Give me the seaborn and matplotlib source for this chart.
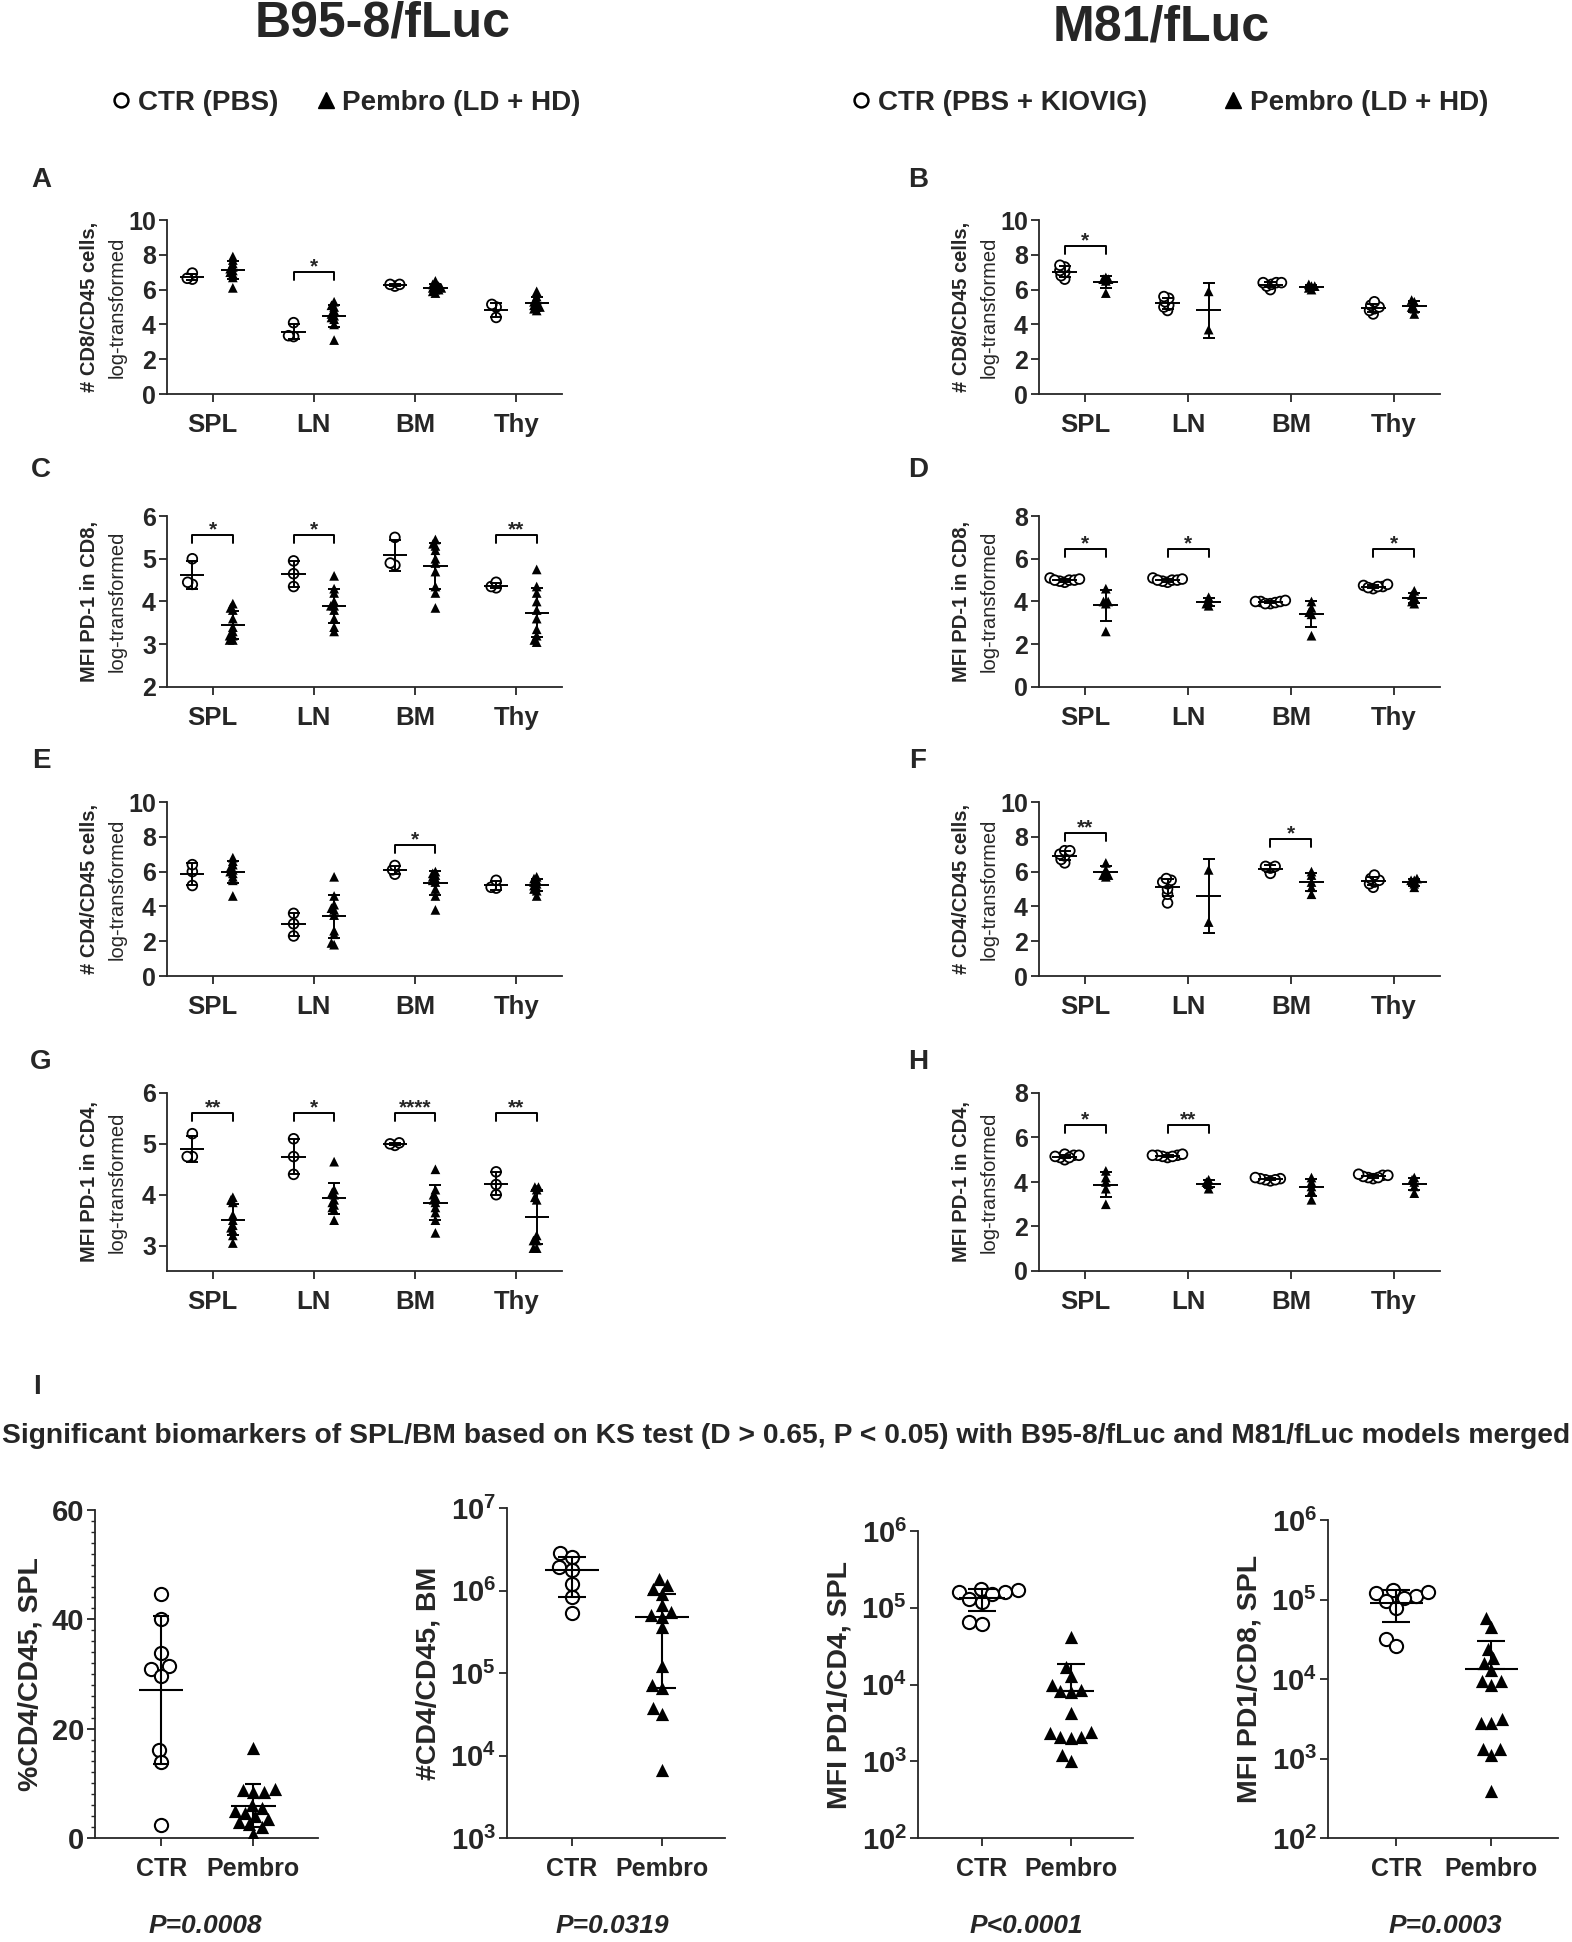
import warnings
import numpy as np
import pandas as pd
import matplotlib
matplotlib.use('Agg')
import matplotlib.pyplot as plt
import seaborn as sns
from matplotlib.lines import Line2D
from matplotlib.ticker import FixedLocator, MultipleLocator, NullLocator, FuncFormatter

warnings.filterwarnings('ignore')

organs = ['SPL', 'LN', 'BM', 'Thy']
groups = ['CTR', 'Pembro']

# ---- B95-8/fLuc panels (values per organ: SPL, LN, BM, Thy) ----
A_CTR = [[6.6, 6.95, 6.65], [3.3, 3.35, 4.1], [6.2, 6.3, 6.3], [4.4, 5.0, 5.15]]
A_PEM = [[6.1, 6.7, 6.9, 7.0, 7.1, 7.2, 7.3, 7.5, 7.7, 7.9],
         [3.1, 4.0, 4.3, 4.4, 4.5, 4.6, 4.8, 5.0, 5.1, 5.3],
         [5.8, 5.9, 6.0, 6.0, 6.1, 6.1, 6.2, 6.2, 6.3, 6.5],
         [4.8, 4.9, 5.0, 5.0, 5.1, 5.2, 5.3, 5.4, 5.6, 5.9]]
A_SIG = {'LN': '*'}

C_CTR = [[4.4, 4.45, 5.0], [4.35, 4.65, 4.95], [4.85, 4.9, 5.5], [4.32, 4.35, 4.45]]
C_PEM = [[3.1, 3.1, 3.2, 3.2, 3.3, 3.4, 3.6, 3.8, 3.85, 3.95],
         [3.3, 3.4, 3.6, 3.8, 3.9, 3.9, 4.0, 4.2, 4.3, 4.6],
         [3.85, 4.2, 4.35, 4.7, 4.9, 5.0, 5.2, 5.3, 5.35, 5.45],
         [3.05, 3.1, 3.2, 3.35, 3.6, 3.8, 4.0, 4.2, 4.35, 4.75]]
C_SIG = {'SPL': '*', 'LN': '*', 'Thy': '**'}

E_CTR = [[5.2, 6.0, 6.4], [2.3, 3.0, 3.6], [5.85, 6.1, 6.35], [5.05, 5.1, 5.5]]
E_PEM = [[4.6, 5.5, 5.7, 5.9, 6.0, 6.1, 6.2, 6.4, 6.6, 6.8],
         [1.8, 1.9, 2.4, 2.6, 3.5, 3.8, 3.9, 4.1, 4.6, 5.7],
         [3.8, 4.6, 5.0, 5.4, 5.5, 5.6, 5.7, 5.8, 5.9, 6.0],
         [4.6, 4.9, 5.0, 5.1, 5.2, 5.3, 5.4, 5.5, 5.6, 5.7]]
E_SIG = {'BM': '*'}

G_CTR = [[4.75, 4.75, 5.2], [4.4, 4.75, 5.1], [4.97, 5.0, 5.02], [4.0, 4.2, 4.45]]
G_PEM = [[3.05, 3.2, 3.3, 3.35, 3.4, 3.5, 3.6, 3.85, 3.9, 3.95],
         [3.5, 3.7, 3.75, 3.8, 3.85, 3.9, 4.0, 4.05, 4.1, 4.65],
         [3.25, 3.5, 3.65, 3.75, 3.85, 3.9, 3.95, 4.0, 4.1, 4.5],
         [2.95, 2.95, 3.1, 3.1, 3.2, 3.9, 3.95, 4.1, 4.15, 4.15]]
G_SIG = {'SPL': '**', 'LN': '*', 'BM': '****', 'Thy': '**'}

# ---- M81/fLuc panels ----
B_CTR = [[6.6, 6.8, 7.0, 7.1, 7.3, 7.4], [4.8, 5.0, 5.1, 5.3, 5.5, 5.6],
         [6.0, 6.2, 6.3, 6.4, 6.4, 6.4], [4.6, 4.8, 4.9, 5.0, 5.1, 5.3]]
B_PEM = [[5.8, 6.5, 6.6, 6.7, 6.6], [5.9, 3.7], [6.0, 6.1, 6.2, 6.2, 6.3], [4.6, 4.9, 5.0, 5.3, 5.4]]
B_SIG = {'SPL': '*'}

D_CTR = [[4.9, 4.95, 5.0, 5.0, 5.05, 5.1, 5.0], [4.9, 4.95, 5.0, 5.0, 5.05, 5.1, 5.0],
         [3.9, 3.95, 4.0, 4.0, 4.05, 3.9, 4.0], [4.6, 4.7, 4.7, 4.75, 4.8, 4.65]]
D_PEM = [[2.6, 3.9, 4.0, 4.0, 4.6], [3.8, 4.0, 4.2, 3.9], [2.4, 3.4, 3.5, 3.7, 4.0], [3.9, 4.0, 4.2, 4.3, 4.5]]
D_SIG = {'SPL': '*', 'LN': '*', 'Thy': '*'}

F_CTR = [[6.5, 6.7, 6.9, 7.0, 7.2, 7.2], [4.2, 4.7, 5.0, 5.3, 5.4, 5.5, 5.6],
         [5.9, 6.2, 6.3, 6.3], [5.1, 5.3, 5.4, 5.5, 5.6, 5.8]]
F_PEM = [[5.7, 5.8, 5.8, 6.1, 6.5], [6.1, 3.1], [4.7, 5.1, 5.4, 5.8, 6.0], [5.1, 5.3, 5.5, 5.5, 5.6]]
F_SIG = {'SPL': '**', 'BM': '*'}

H_CTR = [[5.0, 5.1, 5.15, 5.2, 5.2, 5.25, 5.1], [5.1, 5.15, 5.2, 5.2, 5.25, 5.2, 5.15],
         [4.05, 4.1, 4.15, 4.15, 4.2, 4.1], [4.15, 4.2, 4.25, 4.3, 4.3, 4.35, 4.2]]
H_PEM = [[3.0, 3.7, 4.0, 4.2, 4.5], [3.7, 3.9, 4.0, 4.1], [3.2, 3.6, 3.8, 4.0, 4.2], [3.5, 3.8, 4.0, 4.1, 4.2]]
H_SIG = {'SPL': '*', 'LN': '**'}

# ---- panel I (merged models) ----
I1_CTR = [44.7, 40.0, 33.9, 31.5, 31.0, 29.7, 16.1, 13.9, 2.4]
I1_PEM = [16.5, 9.0, 8.8, 8.5, 8.5, 6.0, 5.5, 5.0, 4.5, 4.0, 3.5, 3.0, 2.5, 2.0, 0.8]
I2_CTR = [2.88e6, 2.57e6, 1.95e6, 1.78e6, 1.2e6, 8.3e5, 5.4e5]
I2_PEM = [1.37e6, 1.15e6, 1.05e6, 9.0e5, 6.6e5, 5.5e5, 5.0e5, 4.8e5, 3.6e5,
          1.23e5, 7.1e4, 6.5e4, 3.8e4, 3.2e4, 6.6e3]
I3_CTR = [1.7e5, 1.6e5, 1.75e5, 1.5e5, 1.6e5, 1.3e5, 1.2e5, 6.5e4, 6.2e4]
I3_PEM = [4.1e4, 1.7e4, 1.3e4, 1.0e4, 8.3e3, 8.0e3, 8.5e3, 4.3e3, 2.4e3,
          2.3e3, 2.1e3, 2.1e3, 2.0e3, 1.2e3, 1.0e3]
I4_CTR = [1.2e5, 1.1e5, 1.05e5, 1.3e5, 1.25e5, 9.5e4, 7.8e4, 3.2e4, 2.6e4]
I4_PEM = [5.8e4, 4.5e4, 2.4e4, 1.85e4, 1.6e4, 1.3e4, 9.5e3, 9.5e3, 8.5e3,
          3.1e3, 2.8e3, 2.8e3, 1.3e3, 1.3e3, 1.1e3, 3.9e2]
I_PVALS = ['P=0.0008', 'P=0.0319', 'P<0.0001', 'P=0.0003']

sns.set_style('ticks')
plt.rcParams['font.family'] = ['Liberation Sans', 'DejaVu Sans']
plt.rcParams['font.weight'] = 'bold'
plt.rcParams['axes.labelweight'] = 'bold'
plt.rcParams['mathtext.fontset'] = 'custom'
plt.rcParams['mathtext.rm'] = 'Liberation Sans:bold'
plt.rcParams['mathtext.bf'] = 'Liberation Sans:bold'
plt.rcParams['axes.linewidth'] = 1.3

W, H = 1572, 1942
fig = plt.figure(figsize=(W / 100, H / 100), dpi=100)
PAL = {'CTR': 'white', 'Pembro': 'black'}
DODGE = 0.8 / len(groups)
OFFS = (np.arange(len(groups)) - 0.5) * DODGE


def px_axes(x0, x1, y0, y1):
    return fig.add_axes([x0 / W, 1 - y1 / H, (x1 - x0) / W, (y1 - y0) / H])


def tighten(ax, start, factor):
    # let the swarm pack as if the markers were smaller, so they overlap like Prism
    for coll in ax.collections[start:]:
        small = coll.get_sizes() * factor
        coll.get_sizes = (lambda s: (lambda: s))(small)


def to_long(cats, ctr, pem):
    rows = []
    for cat, c, p in zip(cats, ctr, pem):
        rows += [(cat, 'CTR', v) for v in c]
        rows += [(cat, 'Pembro', v) for v in p]
    return pd.DataFrame(rows, columns=['cat', 'grp', 'val'])


def swarm(ax, df, cats, size):
    for g, mk, lw in (('CTR', 'o', 1.3), ('Pembro', '^', 0)):
        n0 = len(ax.collections)
        sns.swarmplot(data=df[df.grp == g], x='cat', y='val', hue='grp', order=cats,
                      hue_order=groups, dodge=True, palette=PAL, marker=mk, size=size,
                      edgecolor='black', linewidth=lw, legend=False, ax=ax, zorder=3)
        tighten(ax, n0, 0.1)


def summary(ax, df, cats, half, cap):
    for i, cat in enumerate(cats):
        for j, g in enumerate(groups):
            v = np.array(df[(df.cat == cat) & (df.grp == g)].val)
            x = i + OFFS[j]
            c = v.mean()
            sd = v.std(ddof=1) if len(v) > 1 else 0
            ax.errorbar(x, c, yerr=sd, fmt='none', ecolor='black',
                        elinewidth=1.4, capsize=cap, capthick=1.4, zorder=5)
            ax.hlines(c, x - half, x + half, color='black', lw=1.4, zorder=5)


def bracket(ax, cat, stars, y, span):
    i = organs.index(cat)
    x0, x1 = i + OFFS[0], i + OFFS[1]
    leg = 0.045 * span
    ax.plot([x0, x0, x1, x1], [y - leg, y, y, y - leg], color='black', lw=1.4)
    ax.annotate(stars, xy=((x0 + x1) / 2, y), xytext=(0, -3), textcoords='offset points',
                ha='center', va='bottom', fontsize=15, fontweight='bold')


def top_panel(ax, ctr, pem, ylim, step, sig, lab1, lab2):
    df = to_long(organs, ctr, pem)
    swarm(ax, df, organs, 7)
    summary(ax, df, organs, 0.12, 4)
    ax.set_xlim(-0.45, 3.45)
    ax.set_ylim(*ylim)
    ax.yaxis.set_major_locator(MultipleLocator(step))
    ax.set_xlabel('')
    ax.set_ylabel('')
    ax.tick_params(axis='both', direction='out', length=6, width=1.3)
    ax.tick_params(axis='x', labelsize=18.5, pad=8)
    ax.tick_params(axis='y', labelsize=18, pad=2)
    sns.despine(ax=ax)
    for cat, (stars, y) in sig.items():
        bracket(ax, cat, stars, y, ylim[1] - ylim[0])
    ax.annotate(lab1, xy=(0, 0.5), xycoords='axes fraction', xytext=(-56, 0),
                textcoords='offset points', rotation=90, ha='center', va='center',
                fontsize=14.5, fontweight='bold')
    ax.annotate(lab2, xy=(0, 0.5), xycoords='axes fraction', xytext=(-36, 0),
                textcoords='offset points', rotation=90, ha='center', va='center',
                fontsize=14.5, fontweight='normal')


rows_px = [(220, 394), (516, 687), (802, 976), (1093, 1271)]
left_px, right_px = (167, 562), (1039, 1440)
letter_y = [180, 470, 761, 1062]

# bracket heights (data units) for each significant comparison
SIG_Y = {
    'A': {'LN': 7.0}, 'B': {'SPL': 8.5},
    'C': {'SPL': 5.55, 'LN': 5.55, 'Thy': 5.55}, 'D': {'SPL': 6.45, 'LN': 6.45, 'Thy': 6.45},
    'E': {'BM': 7.5}, 'F': {'SPL': 8.2, 'BM': 7.85},
    'G': {'SPL': 5.6, 'LN': 5.6, 'BM': 5.6, 'Thy': 5.6}, 'H': {'SPL': 6.55, 'LN': 6.55},
}

top_specs = [
    (left_px, 0, 'A', A_CTR, A_PEM, (0, 10), 2, A_SIG, '# CD8/CD45 cells,'),
    (right_px, 0, 'B', B_CTR, B_PEM, (0, 10), 2, B_SIG, '# CD8/CD45 cells,'),
    (left_px, 1, 'C', C_CTR, C_PEM, (2, 6), 1, C_SIG, 'MFI PD-1 in CD8,'),
    (right_px, 1, 'D', D_CTR, D_PEM, (0, 8), 2, D_SIG, 'MFI PD-1 in CD8,'),
    (left_px, 2, 'E', E_CTR, E_PEM, (0, 10), 2, E_SIG, '# CD4/CD45 cells,'),
    (right_px, 2, 'F', F_CTR, F_PEM, (0, 10), 2, F_SIG, '# CD4/CD45 cells,'),
    (left_px, 3, 'G', G_CTR, G_PEM, (2.5, 6), 1, G_SIG, 'MFI PD-1 in CD4,'),
    (right_px, 3, 'H', H_CTR, H_PEM, (0, 8), 2, H_SIG, 'MFI PD-1 in CD4,'),
]

for (xp, r, letter, ctr, pem, ylim, step, sig, lab1) in top_specs:
    ax = px_axes(xp[0], xp[1], rows_px[r][0], rows_px[r][1])
    sig_full = {cat: (stars, SIG_Y[letter][cat]) for cat, stars in sig.items()}
    top_panel(ax, ctr, pem, ylim, step, sig_full, lab1, 'log-transformed')
    if ylim[0] == 2.5:
        ax.set_yticks([3, 4, 5, 6])
    lx = 41 if xp == left_px else 918
    fig.text(lx / W, 1 - letter_y[r] / H, letter, fontsize=20, fontweight='bold',
             ha='center', va='center')

# ---- headers and legends ----
fig.text(383 / W, 1 - 24 / H, 'B95-8/fLuc', fontsize=36, fontweight='bold', ha='center', va='center')
fig.text(1161 / W, 1 - 28 / H, 'M81/fLuc', fontsize=36, fontweight='bold', ha='center', va='center')

h_ctr = Line2D([], [], marker='o', ls='none', mfc='white', mec='black', mew=1.8, ms=10)
h_pem = Line2D([], [], marker='^', ls='none', mfc='black', mec='black', ms=12)
fig.legend([h_ctr, h_pem], ['CTR (PBS)', 'Pembro (LD + HD)'], loc='center',
           bbox_to_anchor=(344 / W, 1 - 103 / H), ncol=2, frameon=False,
           prop={'size': 20, 'weight': 'bold'}, handletextpad=0.1, columnspacing=1.2,
           handlelength=1.0)
fig.legend([h_ctr, h_pem], ['CTR (PBS + KIOVIG)', 'Pembro (LD + HD)'], loc='center',
           bbox_to_anchor=(1168 / W, 1 - 103 / H), ncol=2, frameon=False,
           prop={'size': 20, 'weight': 'bold'}, handletextpad=0.1, columnspacing=2.6,
           handlelength=1.0)

# ---- panel I ----
fig.text(37 / W, 1 - 1387 / H, 'I', fontsize=20, fontweight='bold', ha='center', va='center')
fig.text(0.5, 1 - 1436 / H,
         'Significant biomarkers of SPL/BM based on KS test (D > 0.65, P < 0.05) '
         'with B95-8/fLuc and M81/fLuc models merged',
         fontsize=20.3, fontweight='bold', ha='center', va='center')

bottom_specs = [
    ((95, 318), 1510, I1_CTR, I1_PEM, '%CD4/CD45, SPL', None, 0.24, 6, 'sd'),
    ((507, 725), 1508, I2_CTR, I2_PEM, '#CD4/CD45, BM', (1e3, 1e7), 0.30, 10, 'iqr'),
    ((918, 1133), 1531, I3_CTR, I3_PEM, 'MFI PD1/CD4, SPL', (1e2, 1e6), 0.26, 10, 'sd'),
    ((1328, 1558), 1520, I4_CTR, I4_PEM, 'MFI PD1/CD8, SPL', (1e2, 1e6), 0.28, 10, 'sd'),
]
p_x = [205, 612, 1026, 1445]
logfmt = FuncFormatter(lambda v, p: r'$\mathbf{10^{%d}}$' % int(round(np.log10(v))))

for k, (xp, top, ctr, pem, lab, lim, half, cap, mode) in enumerate(bottom_specs):
    ax = px_axes(xp[0], xp[1], top, 1838)
    df = to_long(groups, [ctr], [pem])
    df['cat'] = df['grp']
    log = lim is not None
    if log:
        ax.set_yscale('log')
    for g, mk, lw in (('CTR', 'o', 1.5), ('Pembro', '^', 0)):
        n0 = len(ax.collections)
        sns.swarmplot(data=df[df.grp == g], x='cat', y='val', order=groups, color=PAL[g],
                      marker=mk, size=9.5, edgecolor='black', linewidth=lw, ax=ax, zorder=3)
        tighten(ax, n0, 0.6)
    for j, g in enumerate(groups):
        v = np.array(df[df.grp == g].val)
        if mode == 'iqr':
            c = np.median(v)
            lo, hi = np.percentile(v, [25, 75], method='weibull')
        else:
            c = v.mean()
            sd = v.std(ddof=1)
            lo, hi = c - sd, c + sd
        if log and lo <= 0:
            lo = c
        ax.errorbar(j, c, yerr=[[c - lo], [hi - c]], fmt='none', ecolor='black',
                    elinewidth=1.5, capsize=cap, capthick=1.5, zorder=5)
        ax.hlines(c, j - half, j + half, color='black', lw=1.5, zorder=5)
    ax.set_xlim(-0.72, 1.7)
    if log:
        ax.set_ylim(*lim)
        ax.yaxis.set_major_locator(FixedLocator(10.0 ** np.arange(np.log10(lim[0]), np.log10(lim[1]) + 1)))
        ax.yaxis.set_major_formatter(logfmt)
        ax.yaxis.set_minor_locator(NullLocator())
    else:
        ax.set_ylim(0, 60)
        ax.yaxis.set_major_locator(MultipleLocator(20))
        ax.yaxis.set_minor_locator(MultipleLocator(2))
    ax.set_xlabel('')
    ax.set_ylabel(lab, fontsize=20.5, fontweight='bold', labelpad=6)
    ax.tick_params(axis='both', which='major', direction='out', length=6, width=1.3)
    ax.tick_params(axis='y', which='minor', direction='out', length=3, width=1.0)
    ax.tick_params(axis='x', labelsize=18, pad=8)
    ax.tick_params(axis='y', labelsize=21, pad=2)
    sns.despine(ax=ax)
    fig.text(p_x[k] / W, 1 - 1926 / H, I_PVALS[k], fontsize=19, fontweight='bold',
             style='italic', ha='center', va='center')

fig.savefig('out.png', dpi=100)
